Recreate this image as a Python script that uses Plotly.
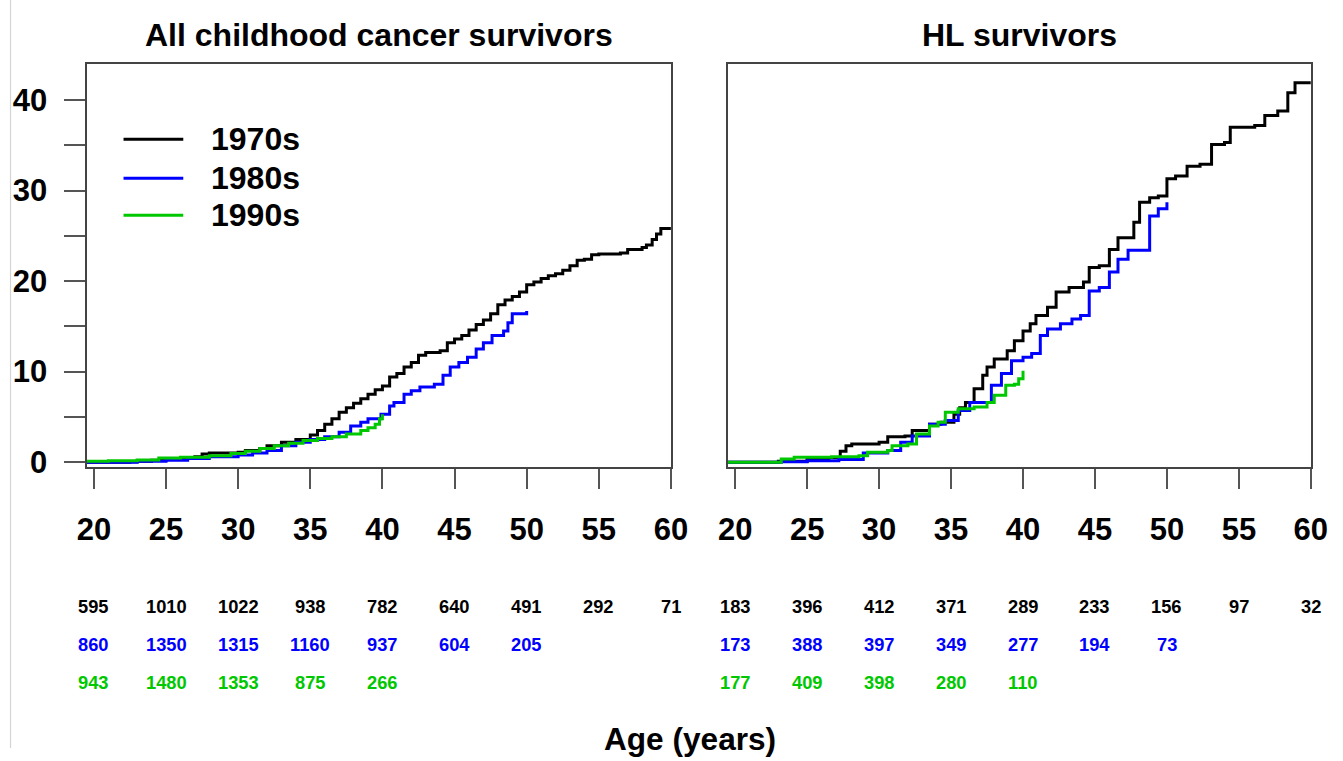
import plotly.graph_objects as go

# ---------------- data ----------------
age_ticks = [20, 25, 30, 35, 40, 45, 50, 55, 60]
y_ticks = [0, 5, 10, 15, 20, 25, 30, 35, 40]
y_ticktext = ["0", "", "10", "", "20", "", "30", "", "40"]

panel_titles = ["All childhood cancer survivors", "HL survivors"]
decades = ["1970s", "1980s", "1990s"]
colors = ["#000000", "#0000FF", "#00C800"]

# All childhood cancer survivors
all_70_age = [19.5, 22.5, 23, 24, 25, 26, 27, 27.5, 28, 30, 30.5, 31.5, 32, 33, 34, 35, 35.5, 36, 36.5, 37,
              37.5, 38, 38.5, 39, 39.5, 40, 40.5, 41, 41.5, 42, 42.5, 43, 44, 44.5, 45, 45.5, 46, 46.5, 47, 47.5,
              48, 48.5, 49, 49.5, 50, 50.5, 51, 51.5, 52, 52.5, 53, 53.5, 54, 54.5, 55, 56.5, 57, 58, 58.3, 58.7,
              59, 59.3, 60]
all_70_val = [0, 0.05, 0.1, 0.2, 0.3, 0.45, 0.6, 0.9, 1.0, 1.1, 1.3, 1.5, 1.8, 2.2, 2.5, 3.0, 3.5, 4.2, 4.8, 5.5,
              6.0, 6.5, 7.0, 7.5, 8.0, 8.4, 9.4, 9.8, 10.5, 11.0, 11.8, 12.1, 12.3, 13.2, 13.6, 14.0, 14.6, 15.2, 15.7, 16.4,
              17.4, 17.9, 18.3, 18.8, 19.6, 19.9, 20.3, 20.6, 20.8, 21.2, 21.7, 22.3, 22.4, 22.9, 23.0, 23.1, 23.5, 23.7, 24.0, 24.6,
              25.2, 25.8, 25.8]

all_80_age = [19.5, 23, 25, 26.5, 28, 30, 31, 32, 33, 34, 35, 36, 37, 37.8, 38.5, 39, 39.9, 40.5, 40.8, 41.5,
              42, 42.6, 43.6, 44.2, 44.7, 45.3, 45.9, 46.5, 47, 47.6, 48.4, 48.7, 49.0, 50.0]
all_80_val = [0, 0.1, 0.2, 0.4, 0.6, 0.8, 1.0, 1.3, 1.8, 2.2, 2.5, 2.8, 3.3, 4.0, 4.4, 4.8, 5.3, 6.2, 6.6, 7.5,
              7.9, 8.3, 8.6, 9.6, 10.5, 11.0, 11.6, 12.5, 13.2, 14.0, 14.5, 15.4, 16.4, 16.7]

all_90_age = [19.5, 21, 23, 24.5, 26, 28, 29.5, 30.5, 31.5, 32.5, 33.5, 34.5, 35.5, 36.5, 37.5, 38.5, 39, 39.5, 39.8, 40]
all_90_val = [0.1, 0.15, 0.25, 0.45, 0.55, 0.7, 0.95, 1.2, 1.5, 1.8, 2.1, 2.4, 2.6, 2.8, 3.1, 3.5, 3.8, 4.2, 4.8, 5.3]

# HL survivors
hl_70_age = [19.5, 23, 25, 26.5, 27.3, 27.7, 28.1, 30.0, 30.6, 31.8, 32.3, 33.5, 34.3, 35.2, 35.6, 36.0, 36.6, 37.2, 37.5,
             38.0, 38.9, 39.4, 40.0, 40.5, 40.9, 41.7, 42.3, 43.2, 44.2, 44.6, 45.3, 46.0, 46.6, 47.3, 47.7, 48.1, 48.8,
             49.4, 50.0, 50.6, 51.4, 52.3, 53.1, 54.0, 54.4, 56.1, 56.8, 57.7, 58.4, 58.9, 60]
hl_70_val = [0, 0.1, 0.3, 0.5, 1.2, 1.8, 2.0, 2.2, 2.8, 2.9, 3.5, 4.2, 4.4, 5.3, 6.0, 6.6, 8.1, 9.6, 10.5,
             11.4, 12.3, 13.4, 14.5, 15.3, 16.2, 17.1, 18.8, 19.3, 19.9, 21.5, 21.7, 23.5, 24.8, 24.8, 26.5, 28.7, 29.2,
             29.4, 31.3, 31.6, 32.7, 32.9, 35.1, 35.3, 37.0, 37.2, 38.3, 38.8, 40.8, 41.9, 41.9]

hl_80_age = [19.5, 23.2, 25, 27.2, 28.9, 30.6, 31.5, 32.3, 33.5, 34.6, 35.5, 36.3, 37.2, 37.8, 38.5, 39.2, 40.0, 40.6,
             41.2, 41.7, 42.6, 43.4, 44.0, 44.6, 45.3, 46.0, 46.6, 47.3, 48.5, 48.8, 49.4, 50.0]
hl_80_val = [0, 0.05, 0.15, 0.3, 1.0, 1.3, 2.2, 2.9, 4.2, 4.6, 5.7, 6.6, 6.6, 8.5, 9.8, 11.2, 11.6, 12.0,
             14.0, 14.7, 15.3, 15.8, 16.2, 18.9, 19.3, 21.0, 22.4, 23.4, 23.4, 27.2, 28.0, 28.7]

hl_90_age = [19.5, 23.2, 24.1, 26.7, 28.6, 29.2, 30.6, 30.9, 32.0, 32.6, 33.5, 34.1, 34.6, 35.5, 36.6, 37.5, 38.0,
             38.8, 39.4, 39.7, 40.0]
hl_90_val = [0, 0.35, 0.55, 0.6, 0.7, 1.1, 1.3, 1.8, 2.0, 3.1, 4.0, 4.4, 5.5, 5.9, 6.1, 6.6, 7.4,
             8.5, 8.6, 9.2, 10.1]

# numbers at risk
risk_ages = [20, 25, 30, 35, 40, 45, 50, 55, 60]
all_risk_70 = [595, 1010, 1022, 938, 782, 640, 491, 292, 71]
all_risk_80 = [860, 1350, 1315, 1160, 937, 604, 205]
all_risk_90 = [943, 1480, 1353, 875, 266]
hl_risk_70 = [183, 396, 412, 371, 289, 233, 156, 97, 32]
hl_risk_80 = [173, 388, 397, 349, 277, 194, 73]
hl_risk_90 = [177, 409, 398, 280, 110]

x_label = "Age (years)"

# ---------------- figure ----------------
W, H = 1343, 761
FONT = "Liberation Sans, Arial, Helvetica, sans-serif"
# empirical correction between layout pixels and the photographed picture
K = 0.984
OX, OY = 8.0, 0.6


def fx(p):
    return ((p - OX) / K) / W


def fy(p):
    return 1 - ((p - OY) / K) / H


def s(v):
    return v / K


fig = go.Figure()

panels = [
    ("x", "y", [(all_70_age, all_70_val), (all_80_age, all_80_val), (all_90_age, all_90_val)]),
    ("x2", "y2", [(hl_70_age, hl_70_val), (hl_80_age, hl_80_val), (hl_90_age, hl_90_val)]),
]
for xa, ya, series in panels:
    for (ages, vals), name, col in zip(series, decades, colors):
        assert len(ages) == len(vals)
        fig.add_trace(go.Scatter(x=ages, y=vals, mode="lines", name=name, xaxis=xa, yaxis=ya,
                                 line=dict(color=col, width=3, shape="hv"), showlegend=False,
                                 hoverinfo="skip"))

ydom = [fy(467.7), fy(64.5)]
common_x = dict(range=[19.5, 60], tickvals=age_ticks, ticks="outside", ticklen=s(20), tickwidth=2,
                tickcolor="#555555", showline=True, mirror=True, linecolor="#444444", linewidth=2,
                showgrid=False, zeroline=False, ticklabelstandoff=14,
                tickfont=dict(family=FONT, size=31, color="#000000", weight="bold"))
common_y = dict(range=[-0.49, 44.0], domain=ydom, showline=True, mirror=True, linecolor="#444444",
                linewidth=2, showgrid=False, zeroline=False)

fig.update_layout(
    width=W, height=H, autosize=False, margin=dict(l=0, r=0, t=0, b=0, pad=0),
    paper_bgcolor="white", plot_bgcolor="white", showlegend=False,
    font=dict(family=FONT, color="#000000"),
    xaxis=dict(domain=[fx(85), fx(671.7)], anchor="y", **common_x),
    xaxis2=dict(domain=[fx(729), fx(1314.3)], anchor="y2", **common_x),
    yaxis=dict(anchor="x", tickvals=y_ticks, ticktext=y_ticktext, ticks="outside", ticklen=s(20),
               tickwidth=2, tickcolor="#555555", ticklabelstandoff=11,
               tickfont=dict(family=FONT, size=31, color="#000000", weight="bold"), **common_y),
    yaxis2=dict(anchor="x2", showticklabels=False, ticks="", **common_y),
)

ann = []
# panel titles
for title, cx in zip(panel_titles, [379, 1022]):
    ann.append(dict(text=title, x=fx(cx), y=fy(36), xref="paper", yref="paper", showarrow=False,
                    xanchor="center", yanchor="middle",
                    font=dict(family=FONT, size=32, color="#000000", weight="bold")))

# legend (drawn in panel 1)
leg_y = [140, 179, 216]
shapes = []
for name, col, ly in zip(decades, colors, leg_y):
    shapes.append(dict(type="line", xref="paper", yref="paper", x0=fx(122), x1=fx(182), y0=fy(ly), y1=fy(ly),
                       line=dict(color=col, width=3)))
    ann.append(dict(text=name, x=fx(208), y=fy(ly), xref="paper", yref="paper", showarrow=False,
                    xanchor="left", yanchor="middle",
                    font=dict(family=FONT, size=32, color="#000000", weight="bold")))

# numbers at risk
row_y = [607.5, 645.5, 684]
for xref, rows in [("x", [all_risk_70, all_risk_80, all_risk_90]), ("x2", [hl_risk_70, hl_risk_80, hl_risk_90])]:
    for row, col, ry in zip(rows, colors, row_y):
        for a, n in zip(risk_ages, row):
            ann.append(dict(text=str(n), x=a, y=fy(ry), xref=xref, yref="paper", showarrow=False,
                            xanchor="center", yanchor="middle",
                            font=dict(family=FONT, size=18.3, color=col, weight="bold")))

ann.append(dict(text=x_label, x=fx(691), y=fy(740), xref="paper", yref="paper", showarrow=False,
                xanchor="center", yanchor="middle",
                font=dict(family=FONT, size=31.6, color="#000000", weight="bold")))

# faint page edge line at left
shapes.append(dict(type="line", xref="paper", yref="paper", x0=0.0004, x1=0.0004, y0=0, y1=1,
                   line=dict(color="#d4d4d4", width=1.2)))

fig.update_layout(annotations=ann, shapes=shapes)

fig.write_html("out.html", config={"responsive": False, "displayModeBar": False},
               post_script="document.body.style.margin='0';document.body.style.overflow='hidden';")
